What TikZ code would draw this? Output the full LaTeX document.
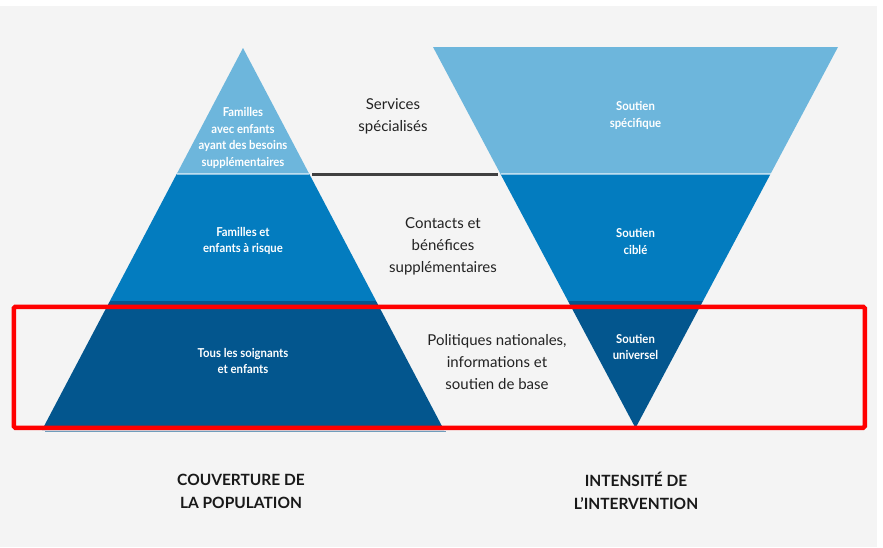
\documentclass[tikz,border=0pt]{standalone}
\usepackage{fontspec}
\setmainfont{Lato}
\newfontfamily\narrowfont[FakeStretch=0.92]{Lato}
\definecolor{bg}{HTML}{F4F4F4}
\definecolor{lightb}{HTML}{6DB6DC}
\definecolor{midb}{HTML}{037CBF}
\definecolor{darkb}{HTML}{03568E}
\definecolor{txt}{HTML}{222222}
\definecolor{sep}{HTML}{404040}
\begin{document}
\begin{tikzpicture}[x=1pt,y=-1pt,
  inlabel/.style={text=white,align=center,font=\narrowfont\bfseries\fontsize{12.3}{16.5}\selectfont,inner sep=0pt},
  midlabel/.style={text=txt,align=center,font=\fontsize{15}{22}\selectfont,inner sep=0pt},
  headlabel/.style={text=black!90,align=center,font=\bfseries\fontsize{15.5}{23}\selectfont,inner sep=0pt},
  hilite/.style={draw=white,opacity=0.55,line width=1.5pt}]
\useasboundingbox (0,0) rectangle (883,547);
\fill[white] (0,0) rectangle (883,547);
\fill[bg] (0,6) rectangle (877,547);
% left pyramid
\coordinate (LA) at (243,48);
\coordinate (L1l) at (176.7,174); \coordinate (L1r) at (309.3,174);
\coordinate (L2l) at (109.9,301); \coordinate (L2r) at (376.1,301);
\coordinate (L3l) at (42,430);   \coordinate (L3r) at (444,430);
\draw[color=darkb!55!bg,line width=1.5pt] (45,431.5) -- (446,431.5);
\fill[lightb] (LA) -- (L1r) -- (L1l) -- cycle;
\fill[midb] (L1l) -- (L1r) -- (L2r) -- (L2l) -- cycle;
\fill[darkb] (L2l) -- (L2r) -- (L3r) -- (L3l) -- cycle;
\draw[hilite] (L1l) -- (L1r);
% right inverted pyramid
\coordinate (R0l) at (433,47); \coordinate (R0r) at (838,47);
\coordinate (R1l) at (500.5,174); \coordinate (R1r) at (770.5,174);
\coordinate (R2l) at (568,301); \coordinate (R2r) at (703,301);
\coordinate (RA) at (635.5,428);
\fill[lightb] (R0l) -- (R0r) -- (R1r) -- (R1l) -- cycle;
\fill[midb] (R1l) -- (R1r) -- (R2r) -- (R2l) -- cycle;
\fill[darkb] (R2l) -- (R2r) -- (RA) -- cycle;
\draw[hilite] (R1l) -- (R1r);
% separator line
\coordinate (S1) at (312,174.5); \coordinate (S2) at (498,174.5);
\draw[sep,line width=2.2pt] (S1) -- (S2);
% pyramid labels
\node[inlabel] (p1) at (243,138) {Familles\\avec enfants\\ayant des besoins\\supplémentaires};
\node[inlabel] (p2) at (243,241) {Familles et\\enfants à risque};
\node[inlabel] (p3) at (243,361) {Tous les soignants\\et enfants};
\node[inlabel] (r1) at (635.5,115.5) {Soutien\\spécifique};
\node[inlabel] (r2) at (635.5,241.5) {Soutien\\ciblé};
\node[inlabel] (r3) at (635.5,347) {Soutien\\universel};
% middle labels
\node[midlabel] (m1) at (393,116) {Services\\spécialisés};
\node[midlabel] (m2) at (443,246) {Contacts et\\bénéfices\\supplémentaires};
\node[midlabel] (m3) at (497,362) {Politiques nationales,\\informations et\\soutien de base};
% headings
\node[headlabel] (h1) at (241,491) {COUVERTURE DE\\LA POPULATION};
\node[headlabel] (h2) at (636,491) {INTENSITÉ DE\\L'INTERVENTION};
% red highlight box
\node[draw=red,line width=4.5pt,rounded corners=1.5pt,minimum width=851pt,minimum height=121pt,inner sep=0pt,anchor=north west] (hl) at (11.5,304.5) {};
\end{tikzpicture}
\end{document}
